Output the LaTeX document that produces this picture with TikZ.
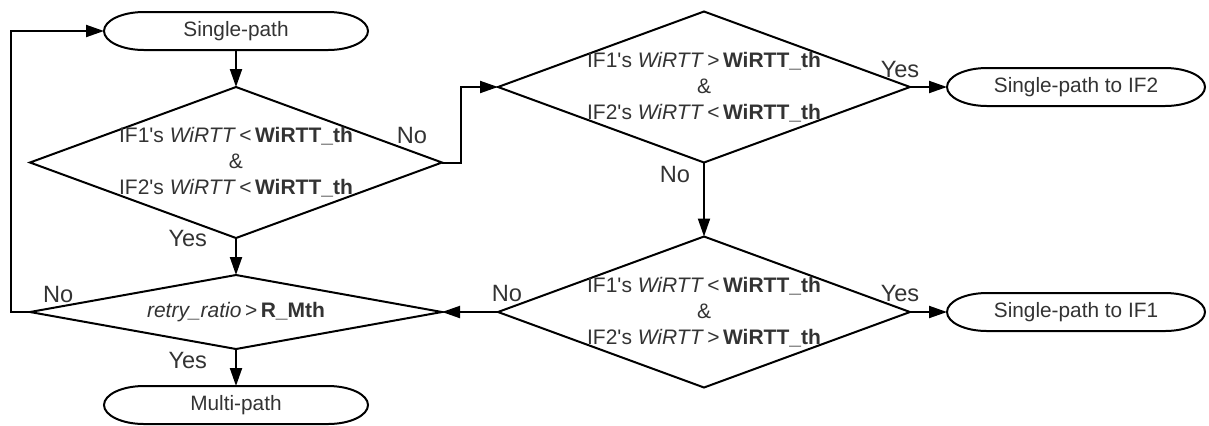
\documentclass[tikz,border=0pt]{standalone}
\usepackage{fontspec}
\setmainfont{Liberation Sans}
\usetikzlibrary{
  arrows.meta,
  positioning,
  shapes.geometric
}
\newcommand{\wirttcheck}[2]{%
  IF1\textquotesingle s \textit{WiRTT}\,#1\,\textbf{WiRTT\_th}\\
  \&\\
  IF2\textquotesingle s \textit{WiRTT}\,#2\,\textbf{WiRTT\_th}}
\tikzset{
%
  % For normal lines.
  line/.style={
    line width=1pt},
%
  % For connectors between steps.
  flow/.style={
    line,
    -{Triangle[length=9pt,
               width=6pt]}},
%
  % For the start and end boxes.
  terminal/.style={
    outer sep=0pt,
    minimum width=132pt,
    minimum height=19pt,
    text=black!80,
    font=\fontsize{10.4}{12.5}\selectfont},
%
  % For the decisions.
  decision/.style={
    line,
    draw,
    diamond,
    outer sep=0pt,
    minimum width=206pt,
    minimum height=75.5pt},
%
  % For the text inside a decision.
  condition/.style={
    align=center,
    text=black!80,
    font=\fontsize{10.5}{13}\selectfont},
%
  % For the Yes and No labels.
  answer/.style={
    text=black!80,
    inner sep=0pt,
    font=\fontsize{11.8}{14}\selectfont}
}

\begin{document}
\begin{tikzpicture}
  \useasboundingbox (0,0) rectangle (604.5pt,-212.5pt);

  \node[terminal] (SP) at (118pt,-15.5pt) {Single-path};
  \node[decision,
        below=18.5pt of SP,
        label={[condition]center:\wirttcheck{<}{<}}] (D1) {};
  \node[decision,
        minimum height=37pt,
        below=18.5pt of D1,
        label={[condition]center:\textit{retry\_ratio}\,>\,\textbf{R\_Mth}}] (D4) {};
  \node[terminal] (MP) [below=18.5pt of D4] {Multi-path};
  \node[decision,
        right=28pt of D4,
        label={[condition]center:\wirttcheck{<}{>}}] (D3) {};
  \node[decision,
        above=37pt of D3,
        label={[condition]center:\wirttcheck{>}{<}}] (D2) {};
  \node[terminal, minimum width=129pt] (S2) [right=18.5pt of D2] {Single-path to IF2};
  \node[terminal, minimum width=129pt] (S1) [right=18.5pt of D3] {Single-path to IF1};

  % outlines of the start and end boxes
  \foreach \n in {SP,MP,S2,S1}
    \draw[line] ([xshift=20pt]\n.north west) -- ([xshift=-20pt]\n.north east)
      arc[start angle=90, end angle=-90, x radius=20pt, y radius=9.5pt]
      -- ([xshift=20pt]\n.south west)
      arc[start angle=270, end angle=90, x radius=20pt, y radius=9.5pt] -- cycle;

  \draw[flow] (SP) -- (D1);
  \draw[flow] (D1) -- (D4)
    node[answer, pos=0, anchor=east, xshift=-14pt] {Yes};
  \draw[flow] (D4) -- (MP)
    node[answer, pos=0.3, anchor=east, xshift=-14pt] {Yes};
  \draw[flow] (D4.west)
    node[answer, anchor=base west, xshift=6pt, yshift=5pt] {No}
    -- ++(-9.5pt,0) |- (SP.west);
  \draw[flow] (D1.east)
    node[answer, anchor=base east, xshift=-7pt, yshift=9.5pt] {No}
    -- ++(9.5pt,0) |- (D2.west);
  \draw[flow] (D2.east) -- (S2.west)
    node[answer, pos=0, anchor=base, xshift=-5pt, yshift=5pt] {Yes};
  \draw[flow] (D2.south) -- (D3.north)
    node[answer, pos=0, anchor=base east, xshift=-6.5pt, yshift=-10pt] {No};
  \draw[flow] (D3.west) -- (D4.east)
    node[answer, pos=0, anchor=base, xshift=4.5pt, yshift=5.5pt] {No};
  \draw[flow] (D3.east) -- (S1.west)
    node[answer, pos=0, anchor=base, xshift=-5pt, yshift=5.5pt] {Yes};
\end{tikzpicture}
\end{document}
